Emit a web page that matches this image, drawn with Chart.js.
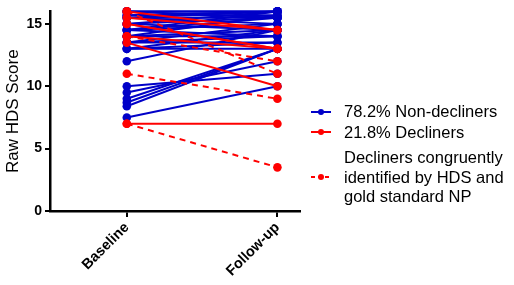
<!DOCTYPE html>
<html>
<head>
<meta charset="utf-8">
<script src="https://cdn.jsdelivr.net/npm/chart.js@4/dist/chart.umd.min.js"></script>
<style>
  body { margin: 0; background: #fff; }
  #wrap { position: relative; width: 514px; height: 285px; }
  #legend { position: absolute; left: 310px; top: 102px; font-family: "Liberation Sans", Arial, sans-serif; font-size: 16.5px; color: #000; }
  .row { display: flex; align-items: center; line-height: 19.5px; }
  .row canvas { margin-right: 12px; flex: none; }
</style>
</head>
<body>
<div id="wrap">
  <canvas id="c" width="514" height="285"></canvas>
  <div id="legend"></div>
</div>
<script>
// categories on the x axis
const categories = ['Baseline', 'Follow-up'];
const yTicks = [0, 5, 10, 15];

// each pair = [baseline, follow-up] for one subject
const nonDecliners = [
  [16, 16], [16, 16], [16, 15.5], [15.7, 16], [15.7, 15.7], [15.5, 16], [15.5, 15.5],
  [15.5, 15], [15, 16], [15, 15.5], [15, 14.5], [14.5, 16], [14.5, 15.5], [14.5, 14],
  [14.5, 15], [14, 15.7], [14, 14.5], [14, 14], [13.5, 15], [13.5, 13.5], [13.5, 14],
  [13, 13], [13, 14.5], [13, 13.5], [12, 14.5], [10, 11], [9.5, 12], [9, 13],
  [8.7, 13], [8.4, 13], [7.5, 10]
];
const decliners = [
  [16, 14.5], [15.5, 14.5], [15, 13], [15, 13], [14, 13], [13.5, 10], [7, 7]
];
const congruentDecliners = [
  [16, 11], [14, 12], [11, 9], [7, 3.5]
];

const legendItems = [
  { text: '78.2% Non-decliners', color: '#0000C8', dash: false },
  { text: '21.8% Decliners', color: '#FF0000', dash: false },
  { text: 'Decliners congruently<br>identified by HDS and<br>gold standard NP', color: '#FF0000', dash: true }
];

const BLUE = '#0000C8';
const RED = '#FF0000';

function pairSet(pair, color, dashed, order) {
  return {
    data: [{ x: 0, y: pair[0] }, { x: 1, y: pair[1] }],
    showLine: true,
    borderColor: color,
    backgroundColor: color,
    borderWidth: 2,
    borderDash: dashed ? [6, 5] : [],
    pointRadius: 4.3,
    pointBorderWidth: 0,
    clip: false,
    order: order
  };
}

const datasets = [];
nonDecliners.forEach(p => datasets.push(pairSet(p, BLUE, false, 3)));
decliners.forEach(p => datasets.push(pairSet(p, RED, false, 2)));
congruentDecliners.forEach(p => datasets.push(pairSet(p, RED, true, 1)));

const fontTick = { family: '"Liberation Sans", Arial, sans-serif', size: 14, weight: 'bold' };

new Chart(document.getElementById('c').getContext('2d'), {
  type: 'scatter',
  data: { datasets: datasets },
  options: {
    responsive: false,
    animation: false,
    layout: { padding: { top: 10, right: 214, left: 0, bottom: 0 } },
    plugins: { legend: { display: false }, tooltip: { enabled: false } },
    scales: {
      x: {
        type: 'linear',
        min: -0.51,
        max: 1.15,
        afterBuildTicks: s => { s.ticks = categories.map((c, i) => ({ value: i })); },
        afterFit: s => { s.height = 74; },
        ticks: {
          color: '#000',
          font: { ...fontTick, size: 14.5 },
          minRotation: 45,
          maxRotation: 45,
          padding: 2,
          callback: v => categories[v]
        },
        grid: { drawOnChartArea: false, drawTicks: true, tickLength: 6, color: '#000', lineWidth: 2 },
        border: { color: '#000', width: 2.5 }
      },
      y: {
        min: 0,
        max: 16,
        afterBuildTicks: s => { s.ticks = yTicks.map(v => ({ value: v })); },
        afterFit: s => { s.width = 50; },
        ticks: { color: '#000', font: fontTick, padding: 3 },
        grid: { drawOnChartArea: false, drawTicks: true, tickLength: 5, color: '#000', lineWidth: 2 },
        border: { color: '#000', width: 2.5 },
        title: {
          display: true,
          text: 'Raw HDS Score',
          color: '#000',
          font: { family: '"Liberation Sans", Arial, sans-serif', size: 17 },
          padding: { top: 3, bottom: 0 }
        }
      }
    }
  }
});

// legend built from the same colours
const legend = document.getElementById('legend');
legendItems.forEach((item, i) => {
  const row = document.createElement('div');
  row.className = 'row';
  if (i === 1) row.style.marginTop = '1px';
  if (i === 2) row.style.marginTop = '6px';
  const ic = document.createElement('canvas');
  ic.width = 22; ic.height = 10;
  const g = ic.getContext('2d');
  g.strokeStyle = item.color; g.fillStyle = item.color; g.lineWidth = 2;
  if (item.dash) g.setLineDash([4, 3]);
  g.beginPath(); g.moveTo(1, 5); g.lineTo(21, 5); g.stroke();
  g.beginPath(); g.arc(11, 5, 3, 0, Math.PI * 2); g.fill();
  const t = document.createElement('div');
  t.innerHTML = item.text;
  row.appendChild(ic); row.appendChild(t);
  legend.appendChild(row);
});
</script>
</body>
</html>
